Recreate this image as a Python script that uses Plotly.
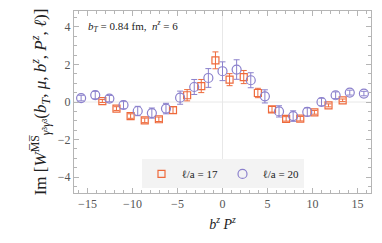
import numpy as np
import plotly.graph_objects as go

# l/a = 17 (orange squares): b^z P^z at odd multiples of pi/4
x17 = [-13.35, -11.78, -10.21, -8.64, -7.07, -5.50, -3.93, -2.36, -0.785,
       0.785, 2.36, 3.93, 5.50, 7.07, 8.64, 10.21, 11.78, 13.35]
y17 = [0.05, -0.35, -0.75, -0.98, -0.92, -0.43, 0.36, 0.85, 2.22,
       1.19, 1.33, 0.48, -0.39, -0.90, -0.89, -0.55, -0.18, 0.09]
e17 = [0.08, 0.10, 0.12, 0.12, 0.12, 0.18, 0.30, 0.35, 0.45,
       0.32, 0.35, 0.25, 0.15, 0.12, 0.12, 0.10, 0.08, 0.07]

# l/a = 20 (purple circles): b^z P^z at multiples of pi/2
x20 = [-15.71, -14.14, -12.57, -11.00, -9.42, -7.85, -6.28, -4.71, -3.14, -1.57, 0.0,
       1.57, 3.14, 4.71, 6.28, 7.85, 9.42, 11.00, 12.57, 14.14, 15.71]
y20 = [0.21, 0.37, 0.18, -0.16, -0.48, -0.59, -0.35, 0.23, 0.80, 1.28, 1.64,
       1.73, 1.16, 0.30, -0.50, -0.75, -0.53, 0.0, 0.36, 0.50, 0.45]
e20 = [0.15, 0.20, 0.17, 0.20, 0.25, 0.27, 0.28, 0.35, 0.40, 0.50, 0.50,
       0.52, 0.40, 0.35, 0.30, 0.28, 0.22, 0.20, 0.18, 0.13, 0.12]

orange = "#ee6a3c"
purple = "#8b80cc"
font = "Liberation Serif, DejaVu Serif, serif"

fig = go.Figure()
fig.add_trace(go.Scatter(
    x=x17, y=y17, mode="markers", name="ℓ/a = 17",
    marker=dict(symbol="square-open", size=7, color=orange, line=dict(width=1.2)),
    error_y=dict(type="data", array=e17, color=orange, thickness=1, width=3),
))
fig.add_trace(go.Scatter(
    x=x20, y=y20, mode="markers", name="ℓ/a = 20",
    marker=dict(symbol="circle-open", size=9, color=purple, line=dict(width=1.2)),
    error_y=dict(type="data", array=e20, color=purple, thickness=1, width=3),
))

axis_common = dict(
    showline=True, linecolor="#b5b5b5", linewidth=1, mirror="allticks",
    ticks="inside", ticklen=5, tickcolor="#b5b5b5",
    showgrid=False, zeroline=False, automargin=False,
    tickfont=dict(family=font, size=12, color="#555555"),
)

fig.update_xaxes(range=[-16.5, 16.5], tickvals=[-15, -10, -5, 0, 5, 10, 15],
                 minor=dict(dtick=1, ticks="inside", ticklen=3, tickcolor="#b5b5b5"),
                 title=dict(text="<i>b<sup>z</sup> P<sup>z</sup></i>",
                            font=dict(family=font, size=14, color="#222"), standoff=8),
                 **axis_common)
fig.update_yaxes(range=[-4.85, 4.85], tickvals=[-4, -2, 0, 2, 4],
                 minor=dict(dtick=0.5, ticks="inside", ticklen=3, tickcolor="#b5b5b5"),
                 title=dict(text="Im [<i>W</i><sup>M̅S̅</sup><sub><i>γ</i>³<i>γ</i>³</sub>(<i>b<sub>T</sub></i>, <i>μ</i>, <i>b<sup>z</sup></i>, <i>P<sup>z</sup></i>, <i>ℓ</i>)]",
                            font=dict(family=font, size=17, color="#222"), standoff=6),
                 **axis_common)

# light reference lines at x=0 and y=0
fig.add_shape(type="line", xref="x", yref="paper", x0=0, x1=0, y0=0, y1=1,
              line=dict(color="#e8e8e8", width=1), layer="below")
fig.add_shape(type="line", xref="paper", yref="y", x0=0, x1=1, y0=0, y1=0,
              line=dict(color="#e8e8e8", width=1), layer="below")

fig.add_annotation(x=0.04, y=0.92, xref="paper", yref="paper", xanchor="left", yanchor="middle",
                   text="<i>b<sub>T</sub></i> = 0.84 fm,  <i>n<sup>z</sup></i> = 6", showarrow=False,
                   font=dict(family=font, size=11, color="#222"))

fig.update_layout(
    width=382, height=243,
    margin=dict(l=74, r=11, t=11, b=50),
    plot_bgcolor="white", paper_bgcolor="white",
    showlegend=True,
    legend=dict(orientation="h", x=0.5, xanchor="center", y=0.105, yanchor="middle",
                bgcolor="#f3f3f3", font=dict(family=font, size=11, color="#222"),
                itemwidth=30, entrywidth=36, tracegroupgap=0),
)

fig.write_html("out.html", config={"displayModeBar": False},
               post_script="document.body.style.margin='0';document.body.style.padding='0';document.body.style.overflow='hidden';")
